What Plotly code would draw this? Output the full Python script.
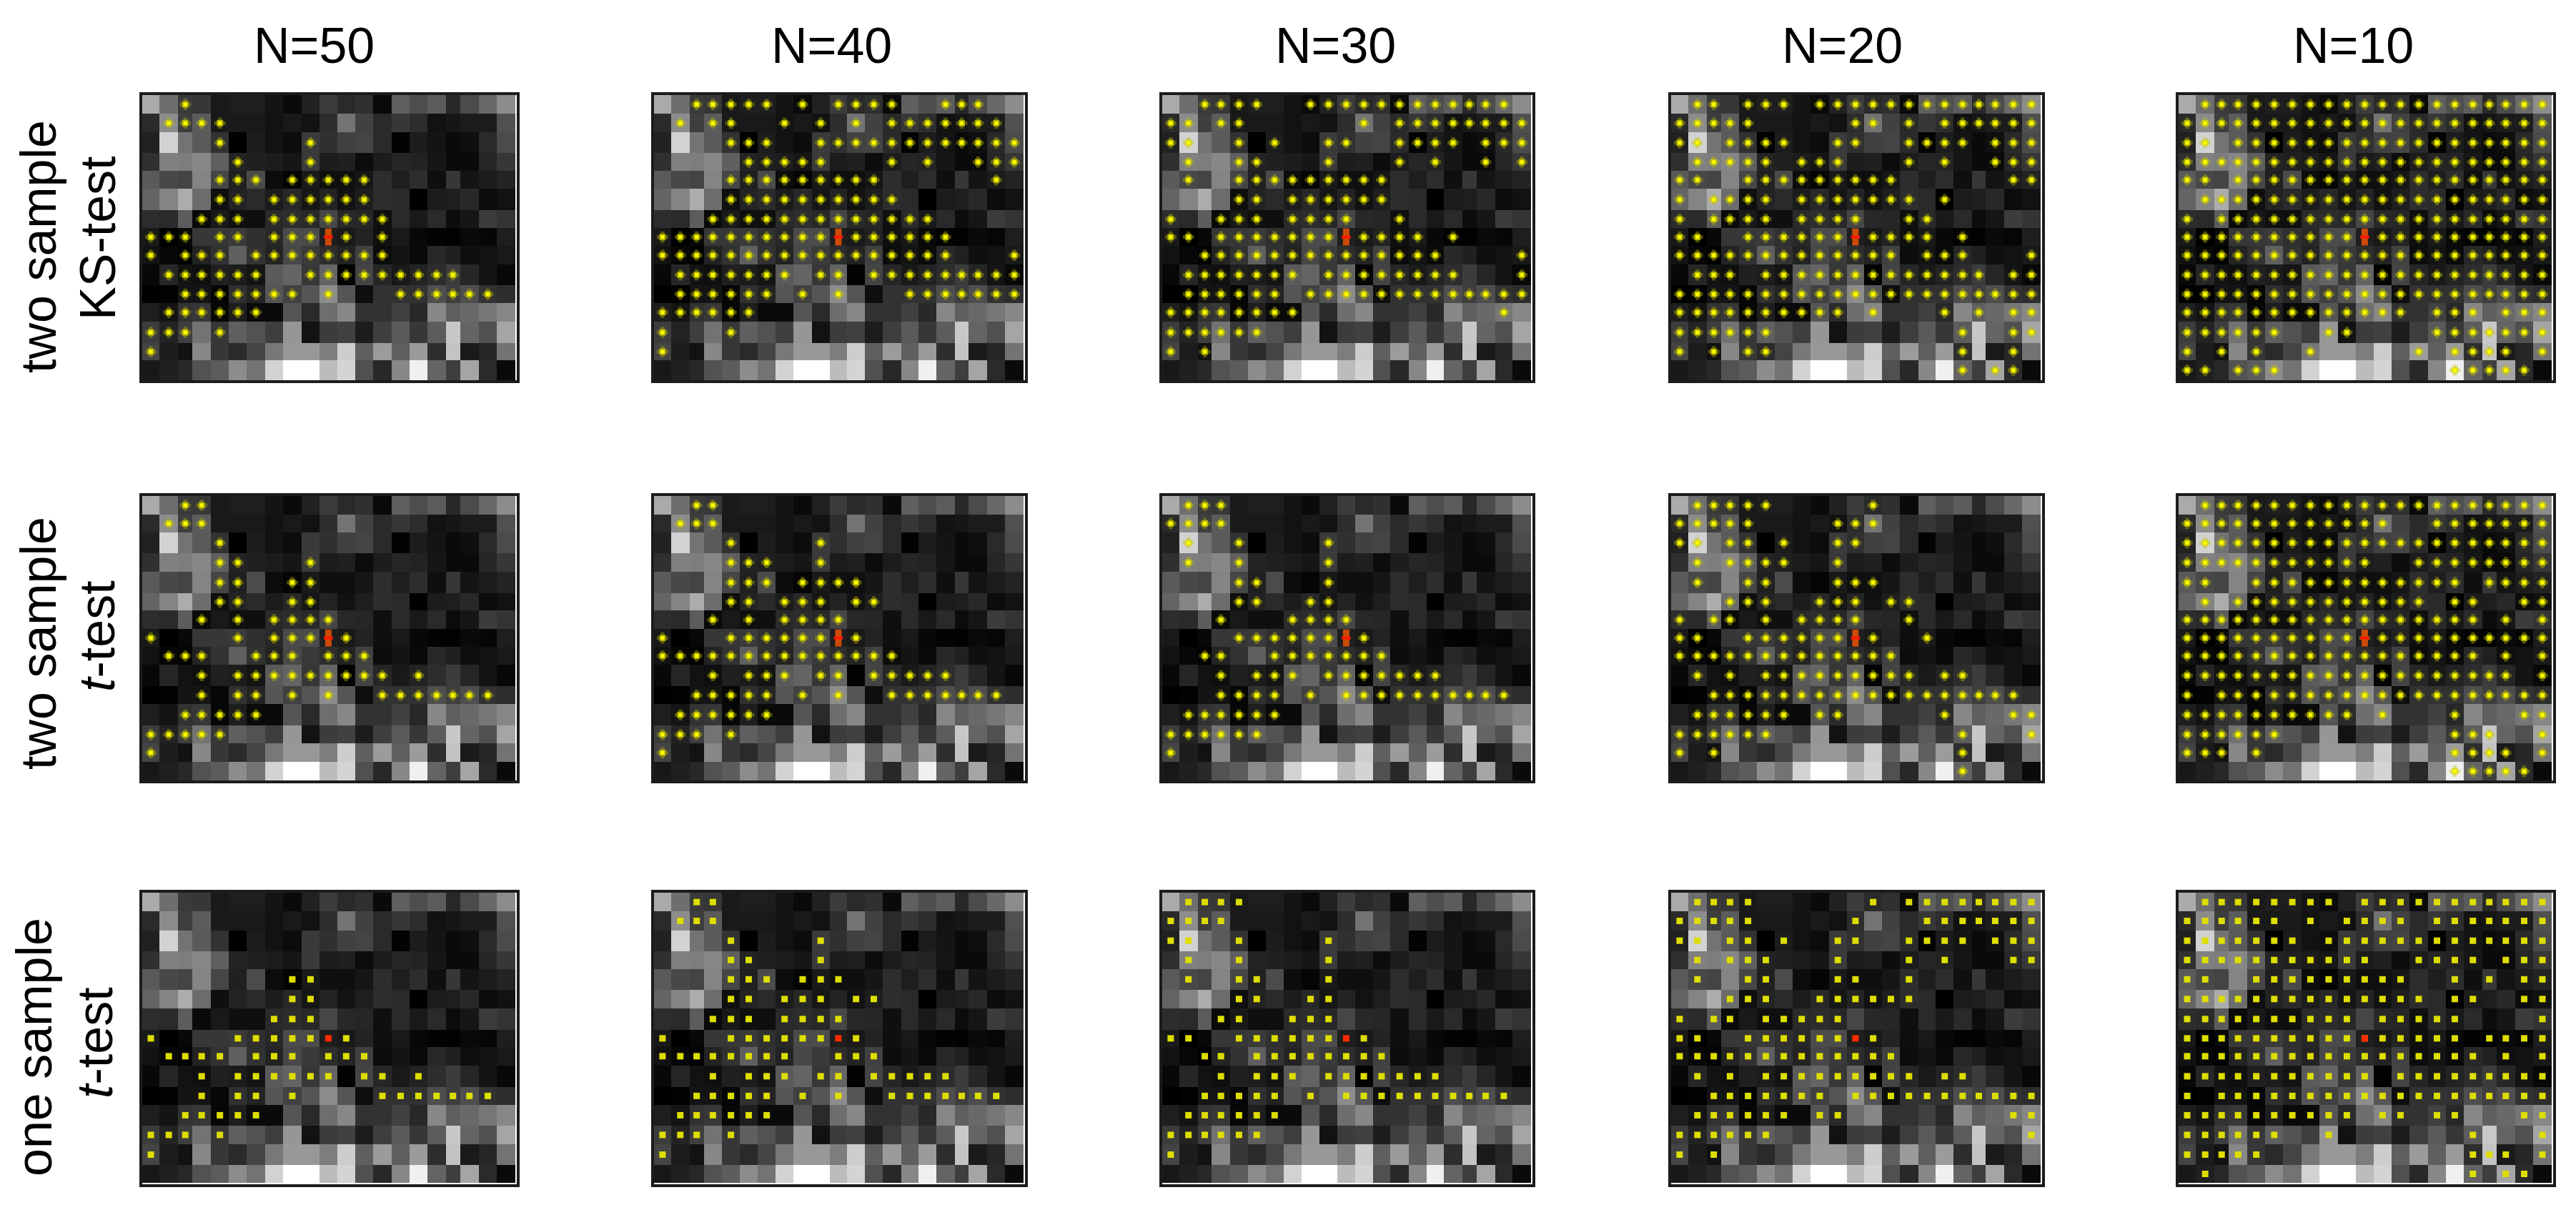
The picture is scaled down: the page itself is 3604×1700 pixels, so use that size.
import plotly.graph_objects as go

# gray level of every cell (same background in all panels)
GRAY = [
    [170, 110, 58, 55, 25, 30, 30, 20, 10, 33, 60, 42, 48, 10, 95, 78, 92, 40, 75, 105, 140],
    [42, 140, 62, 92, 25, 25, 25, 18, 25, 18, 45, 115, 65, 42, 55, 45, 18, 22, 28, 28, 80],
    [33, 210, 115, 90, 50, 0, 28, 18, 12, 58, 48, 65, 68, 42, 3, 28, 20, 10, 15, 42, 75],
    [48, 128, 125, 135, 95, 35, 32, 28, 22, 58, 28, 32, 12, 28, 38, 35, 22, 10, 10, 38, 55],
    [90, 72, 68, 132, 70, 32, 75, 12, 5, 25, 15, 15, 22, 45, 30, 45, 15, 55, 20, 28, 35],
    [100, 132, 172, 108, 15, 35, 42, 28, 40, 22, 35, 18, 30, 45, 42, 0, 28, 30, 40, 12, 18],
    [45, 42, 92, 10, 25, 15, 15, 42, 45, 40, 70, 40, 38, 15, 42, 25, 42, 12, 22, 60, 52],
    [25, 0, 8, 55, 55, 58, 48, 40, 75, 75, 30, 25, 35, 15, 25, 8, 3, 2, 10, 6, 30],
    [18, 7, 2, 35, 50, 95, 50, 35, 72, 58, 45, 35, 65, 12, 20, 10, 40, 32, 15, 18, 25],
    [8, 38, 18, 15, 32, 28, 20, 90, 100, 55, 100, 3, 68, 38, 25, 35, 45, 60, 38, 20, 8],
    [0, 2, 20, 20, 6, 48, 35, 85, 65, 85, 140, 85, 14, 50, 50, 50, 78, 62, 78, 50, 45],
    [30, 20, 50, 55, 7, 30, 10, 10, 85, 42, 110, 135, 50, 50, 65, 40, 135, 95, 105, 118, 135],
    [60, 35, 62, 115, 55, 95, 82, 62, 150, 18, 60, 65, 28, 62, 90, 55, 92, 200, 100, 80, 165],
    [68, 28, 18, 135, 55, 42, 68, 120, 152, 152, 125, 205, 95, 155, 95, 155, 45, 195, 26, 38, 115],
    [24, 32, 40, 82, 92, 140, 115, 210, 255, 255, 188, 212, 80, 40, 135, 240, 100, 62, 165, 42, 10],
]

# significant columns per row, one list per panel
KS_N50 = ["2", "1-4", "4 9", "5 9", "4 5 6 8-12", "4 5 7-12", "3 4 5 7-13", "0 1 2 4 5 7 8 9 11 13",
          "0 2 3 4 6-13", "1-6 9-17", "2-8 10 14-19", "1-6", "0 1 2 4", "0", ""]
KS_N40 = ["2-6 8 10-13 16 17 18", "1 3 4 7 9 11 13-19", "4 5 6 9-20", "5-9 13 15 18 19 20", "4-12 19", "4-13",
          "3-15", "0-9 11-16", "0-16 20", "1-7 9 10 12-20", "1-6 8 10 14-20", "0-5", "0 4", "0", ""]
KS_N30 = ["2-5 8-19", "0 1 3 4 11 13-20", "0 1 4 6 9 10 13-16 18 19 20", "1 4 5 9 13 15 18 20", "1 4-12",
          "4 5 7-12", "0 3 4 5 7-10 13", "0 1 3-9 11-14 16", "2-15 20", "1-7 9-16 20", "1-6 8-20", "0-7 19",
          "0-5", "0 2", ""]
KS_N20 = ["1 2 4 5 6 8-20", "0-4 10 11 13 15-20", "0 1 3-6 9 10 13-16 18 19 20", "1-5 7 8 9 13 15 18 19 20",
          "0 1 4-12 19 20", "0 2 3 4 5 7-13 15", "0 2 3 4 5 7-10 13 14", "0 1 4-9 11-14 16", "0-12 14 15 16 20",
          "1 2 3 5-17 19 20", "0-20", "0-9 11 15 17 19 20", "0-5 16 19 20", "0 2 4 5 16 19", "16 18 19"]
KS_N10 = ["1-20", "0-20", "0 1 3-20", "0-20", "0 1 3-20", "1-20", "0 2-20", "0-9 11-20", "0-20", "0-20", "0-20",
          "0-12 14 15 16 18 19 20", "0-5 8 9 14-20", "0 2 4 7 13 15-18 20", "0 1 3 4 5 15-19"]

TT_N50 = ["2 3", "1 2 3", "4", "4 5 9", "4 5 8 9", "4 5 8 9", "3 5 7 8 9 10", "0 5 7 8 9 11",
          "1 2 3 6 7 8 10 11 12", "3 5-10 11 12 13 15", "3 5 6 8 10 13-19", "2-6", "0-4", "0", ""]
TT_N40 = ["2 3", "1 2 3", "4 9", "4 5 6 9", "4 5 6 8-11", "4 5 7 8 9 11 12", "3 5 7-10", "0 4-9 11", "0-13",
          "3 5 6 7 9 10 12-16", "2-6 8 10 13-19", "1-6", "0 1 2 4", "0", ""]
TT_N30 = ["1 2 3", "0-3", "1 4 9", "1 4 9", "4 5 9", "4 5 8 9", "3 7-10", "4-9 11", "2 3 6-12",
          "3 5 6 7 9-15", "3-6 8 10-19", "1-6", "0-5", "0", ""]
TT_N20 = ["1-5 11", "0-4 9 10 11", "0 1 3 4 6 9 10", "1 3-6 9", "1 4 5 9 10 11", "3 4 5 8 9 10 12 13",
          "0 2 3 5 7-10 13", "0 1 4-9 11 14", "0-12", "1 3 5-13 15 16", "2-19", "1-6 8 9 15 19 20",
          "0-5 16 20", "0 2 16", "16"]
TT_N10 = ["1-20", "0-11 14-20", "0-20", "0-10 13-20", "0 1 4-15 17-20", "1 3-13 15 16 19 20",
          "0-16 18 20", "0-20", "0-16 18 20", "0-18 20", "0 2-20", "0-9 11 15 19 20", "0-5 15 16 17 20",
          "0 1 2 4 15-18 20", "15-19"]

OS_N50 = ["", "", "", "", "8 9", "8 9", "7 8 9", "0 5-9 11", "1-4 6 7 8 10 11 12", "3 5-10 12 13 15",
          "3 5 6 8 13-19", "2-6", "0 1 2 4", "0", ""]
OS_N40 = ["2 3", "1 2 3", "4 9", "4 5 9", "4 5 6 8 9 10", "4 5 7 8 9 11 12", "3 4 5 7-10", "0 4-9 11",
          "0-7 10 11 12", "3 5 6 7 9 10 12-16", "2-6 8 10 13-19", "1-6", "0 1 2 4", "0", ""]
OS_N30 = ["1-4", "0-3", "0 1 4 9", "1 4 9", "1 4 5 9", "4 5 8 9", "3 4 7 8 9", "0 1 4-9 11", "2 3 5-12",
          "3 5 6 7 9-15", "2-6 8 10-19", "1-6", "0-5", "0", ""]
OS_N20 = ["1-4 11 13-20", "0-4 10 14-20", "0 1 3 4 6 9 10 13-16 18 19 20", "1 3 4 5 9 13 15 19 20",
          "1 4 5 9 10 13", "3 4 5 8-13", "0 2 3 5-9", "0 1 4-9 11", "0-12", "1 3 5-13 15 16", "2-8 10-20",
          "1-6 8 9 19 20", "0-5 20", "0 2", ""]
OS_N10 = ["1-8 10-20", "0-5 7 9-12 14-20", "0-6 8-20", "0-10 13-16 18 19 20", "0 1 4-12 15 17 19 20",
          "0-13 15 16 19 20", "0-9 11-15 20", "0-15 17-20", "0-16 18 20", "0-10 12-20", "0 2-20",
          "0-9 11 12 14 15 19 20", "0-5 8 16 20", "0-4 16 17 18 20", "1 16 18 19"]

PANELS = [[KS_N50, KS_N40, KS_N30, KS_N20, KS_N10],
          [TT_N50, TT_N40, TT_N30, TT_N20, TT_N10],
          [OS_N50, OS_N40, OS_N30, OS_N20, OS_N10]]

COLUMN_TITLES = ["N=50", "N=40", "N=30", "N=20", "N=10"]
RED_ROW = 7
RED_COL = 10

# cell sizes left over from the resampled raster
COL_WIDTHS = [65, 71, 54, 70, 68, 68, 69, 68, 70, 68, 67, 68, 68, 70, 68, 67, 70, 54, 71, 68, 70]
ROW_HEIGHTS = [
    [79, 78, 87, 75, 75, 90, 75, 75, 78, 87, 75, 78, 90, 72, 84],
    [78, 75, 87, 78, 90, 72, 78, 75, 75, 90, 75, 90, 75, 78, 77],
    [79, 79, 87, 75, 87, 78, 90, 72, 78, 90, 75, 87, 78, 87, 75],
]

W, H = 3604, 1700
BODY_MARGIN = 8  # browser default around the plot div
X_LEFT = [199, 915, 1626, 2338, 3048]
X_RIGHT = [723, 1434, 2144, 2857, 3572]
Y_TOP = [133, 694, 1249]
Y_BOTTOM = [532, 1092, 1657]
TITLE_X = [439, 1163, 1869, 2577, 3292]


def px_x(x):
    return (x - BODY_MARGIN) / W


def px_y(y):
    return 1 - (y - BODY_MARGIN) / H


def parse_cols(spec):
    cols = []
    for part in spec.split():
        if "-" in part:
            a, b = part.split("-")
            cols.extend(range(int(a), int(b) + 1))
        else:
            cols.append(int(part))
    return cols


def edges(sizes):
    out = [0]
    for s in sizes:
        out.append(out[-1] + s)
    return out


def centers(e):
    return [(a + b) / 2 for a, b in zip(e[:-1], e[1:])]


fig = go.Figure()
x_edges = edges(COL_WIDTHS)
x_mid = centers(x_edges)

layout = {}
for r in range(3):
    y_edges = edges(ROW_HEIGHTS[r])
    y_mid = centers(y_edges)
    # row three keeps a white strip under the image
    y_pad = 6 if r == 2 else 0
    for c in range(5):
        n = r * 5 + c + 1
        xa, ya = f"x{n}", f"y{n}"

        fig.add_trace(go.Heatmap(z=GRAY, x=x_edges, y=y_edges, xaxis=xa, yaxis=ya,
                                 zmin=0, zmax=255, showscale=False,
                                 colorscale=[[0, "#000000"], [1, "#ffffff"]]))

        xs, ys = [], []
        for row, spec in enumerate(PANELS[r][c]):
            for col in parse_cols(spec):
                xs.append(x_mid[col])
                ys.append(y_mid[row])

        if r == 2:
            fig.add_trace(go.Scatter(x=xs, y=ys, xaxis=xa, yaxis=ya, mode="markers",
                                     marker=dict(symbol="square", size=9, color="#dede00", line_width=0)))
            fig.add_trace(go.Scatter(x=[x_mid[RED_COL]], y=[y_mid[RED_ROW]], xaxis=xa, yaxis=ya, mode="markers",
                                     marker=dict(symbol="square", size=9, color="#ff2a00", line_width=0)))
        else:
            # blurred plus: dim block, then a bright core
            fig.add_trace(go.Scatter(x=xs, y=ys, xaxis=xa, yaxis=ya, mode="markers",
                                     marker=dict(symbol="cross", size=13, color="rgba(190,190,0,0.4)", line_width=0)))
            fig.add_trace(go.Scatter(x=xs, y=ys, xaxis=xa, yaxis=ya, mode="markers",
                                     marker=dict(symbol="square", size=9, color="rgba(215,215,0,0.7)", line_width=0)))
            fig.add_trace(go.Scatter(x=xs, y=ys, xaxis=xa, yaxis=ya, mode="markers",
                                     marker=dict(symbol="square", size=5, color="#ffff00", line_width=0)))
            fig.add_trace(go.Scatter(x=[x_mid[RED_COL]], y=[y_mid[RED_ROW]], xaxis=xa, yaxis=ya, mode="markers",
                                     marker=dict(symbol="line-ns", size=17, line=dict(width=9, color="#cc4a08"))))
            fig.add_trace(go.Scatter(x=[x_mid[RED_COL]], y=[y_mid[RED_ROW]], xaxis=xa, yaxis=ya, mode="markers",
                                     marker=dict(symbol="line-ew", size=9, line=dict(width=4, color="#ff1800"))))

        axis = dict(showticklabels=False, ticks="", showgrid=False, zeroline=False,
                    showline=True, mirror=True, linewidth=4, linecolor="#1c1c1c")
        layout[f"xaxis{n}"] = dict(axis, anchor=ya, domain=[px_x(X_LEFT[c]), px_x(X_RIGHT[c])],
                                   range=[0, x_edges[-1] * 1.004])
        layout[f"yaxis{n}"] = dict(axis, anchor=xa, domain=[px_y(Y_BOTTOM[r]), px_y(Y_TOP[r])],
                                   range=[y_edges[-1] + y_pad, 0])

annotations = []
for c, title in enumerate(COLUMN_TITLES):
    annotations.append(dict(text=title, x=px_x(TITLE_X[c]), y=px_y(64)))
for text, x, y in [("two sample", 54, 345), ("KS-test", 137, 333),
                   ("two sample", 54, 900), ("<i>t</i>-test", 136, 890),
                   ("one sample", 48, 1465), ("<i>t</i>-test", 133, 1459)]:
    annotations.append(dict(text=text, x=px_x(x), y=px_y(y), textangle=-90))
for a in annotations:
    a.update(xref="paper", yref="paper", showarrow=False, xanchor="center", yanchor="middle")

fig.update_layout(width=W, height=H, margin=dict(l=0, r=0, t=0, b=0), showlegend=False,
                  paper_bgcolor="white", plot_bgcolor="white",
                  font=dict(family="Liberation Sans", size=70, color="black"),
                  annotations=annotations, **layout)

fig.write_html("out.html")
